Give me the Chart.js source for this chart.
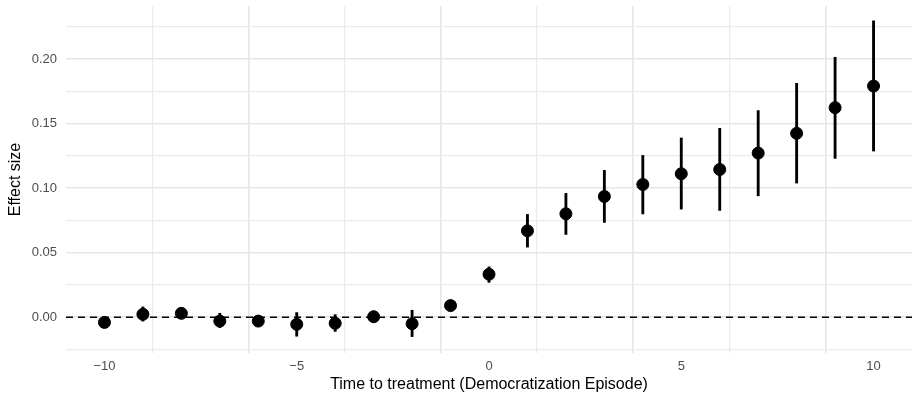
<!DOCTYPE html>
<html>
<head>
<meta charset="utf-8">
<script src="https://cdn.jsdelivr.net/npm/chart.js@4/dist/chart.umd.min.js"></script>
<style>
  html, body { margin: 0; padding: 0; background: #fff; }
  #wrap { width: 916px; height: 403px; }
</style>
</head>
<body>
<div id="wrap"><canvas id="effectChart" width="916" height="403"></canvas></div>
<script>
// time to treatment
const periods = [-10, -9, -8, -7, -6, -5, -4, -3, -2, -1, 0, 1, 2, 3, 4, 5, 6, 7, 8, 9, 10];
// point estimates
const estimates = [-0.004, 0.0023, 0.003, -0.003, -0.003, -0.0055, -0.0047, 0.0004, -0.005, 0.009,
    0.0333, 0.0669, 0.0801, 0.0935, 0.1028, 0.1111, 0.1144, 0.1271, 0.1424, 0.1623, 0.179];
// 95% interval bounds
const lower = [-0.0065, -0.003, 0.001, -0.008, -0.005, -0.0147, -0.011, -0.0015, -0.015, 0.0065,
    0.027, 0.0543, 0.0641, 0.0734, 0.080, 0.0837, 0.0827, 0.094, 0.1039, 0.123, 0.1287];
const upper = [-0.0015, 0.008, 0.005, 0.003, -0.001, 0.0036, 0.002, 0.0023, 0.0054, 0.0115,
    0.039, 0.0796, 0.0959, 0.1137, 0.1253, 0.1388, 0.1463, 0.16, 0.1811, 0.2013, 0.2295];

const xMin = -11, xMax = 11;
const yMin = -0.0277, yMax = 0.241;

const gridMajor = '#e6e6e6';
const gridMinor = '#ececec';

function isMultiple(v, step) {
    const r = Math.abs(v / step - Math.round(v / step));
    return r < 1e-6;
}

// grid colour / width by major or minor tick
function gridColor(step) {
    return c => !c.tick ? 'rgba(0,0,0,0)' : (isMultiple(c.tick.value, step) ? gridMajor : gridMinor);
}
function gridWidth(step) {
    return c => !c.tick ? 0 : (isMultiple(c.tick.value, step) ? 1.6 : 1.3);
}

const ctx = document.getElementById('effectChart').getContext('2d');
const effectChart = new Chart(ctx, {
    type: 'scatter',
    data: {
        datasets: [
            {
                type: 'line',
                data: [{x: xMin, y: 0}, {x: xMax, y: 0}],
                borderColor: '#000',
                borderWidth: 1.5,
                borderDash: [7, 5],
                pointRadius: 0,
                order: 3
            },
            {
                type: 'bar',
                data: periods.map((p, i) => ({x: p, y: [lower[i], upper[i]]})),
                backgroundColor: '#000',
                borderWidth: 0,
                barThickness: 2.2,
                grouped: false,
                order: 2
            },
            {
                type: 'scatter',
                data: periods.map((p, i) => ({x: p, y: estimates[i]})),
                backgroundColor: '#000',
                borderColor: '#000',
                pointRadius: 6,
                pointHoverRadius: 6,
                order: 1
            }
        ]
    },
    options: {
        responsive: false,
        animation: false,
        events: [],
        layout: { autoPadding: false, padding: { left: 0, right: 4, top: 6, bottom: 0 } },
        plugins: {
            legend: { display: false },
            tooltip: { enabled: false }
        },
        scales: {
            x: {
                type: 'linear',
                min: xMin,
                max: xMax,
                offset: false,
                border: { display: false },
                grid: {
                    drawTicks: false,
                    color: gridColor(5),
                    lineWidth: gridWidth(5)
                },
                ticks: {
                    stepSize: 2.5,
                    includeBounds: false,
                    autoSkip: false,
                    maxRotation: 0,
                    padding: 6,
                    color: '#4d4d4d',
                    font: { family: 'Liberation Sans', size: 13 },
                    callback: function(value) {
                        if (!isMultiple(value, 5)) return '';
                        return String(value).replace('-', '\u2212');
                    }
                },
                title: {
                    display: true,
                    text: 'Time to treatment (Democratization Episode)',
                    color: '#000',
                    font: { family: 'Liberation Sans', size: 16 },
                    padding: { top: 0, bottom: 9 }
                },
                afterFit: function(scale) {
                    scale.height = 50;
                    scale.paddingLeft = 0;
                    scale.paddingRight = 0;
                }
            },
            y: {
                min: yMin,
                max: yMax,
                border: { display: false },
                grid: {
                    drawTicks: false,
                    color: gridColor(0.05),
                    lineWidth: gridWidth(0.05)
                },
                ticks: {
                    stepSize: 0.025,
                    includeBounds: false,
                    autoSkip: false,
                    padding: 9,
                    color: '#4d4d4d',
                    font: { family: 'Liberation Sans', size: 13 },
                    callback: function(value) {
                        if (!isMultiple(value, 0.05)) return '';
                        return value.toFixed(2);
                    }
                },
                title: {
                    display: true,
                    text: 'Effect size',
                    color: '#000',
                    font: { family: 'Liberation Sans', size: 16 },
                    padding: { top: 6, bottom: 4 }
                },
                afterFit: function(scale) {
                    scale.width = 66;
                    scale.paddingTop = 0;
                    scale.paddingBottom = 0;
                }
            }
        }
    }
});
</script>
</body>
</html>
